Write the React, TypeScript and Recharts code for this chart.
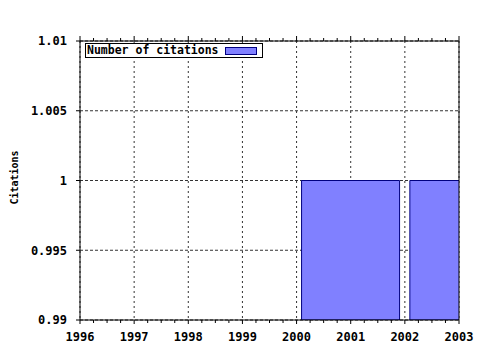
import React from 'react';
import { ComposedChart, Bar, XAxis, YAxis, CartesianGrid, Legend } from 'recharts';

const years = [2001, 2003];
const citations = [1, 1];
const yearTicks = [1996, 1997, 1998, 1999, 2000, 2001, 2002, 2003];
const quarterTicks = [
  1996, 1996.25, 1996.5, 1996.75, 1997, 1997.25, 1997.5, 1997.75,
  1998, 1998.25, 1998.5, 1998.75, 1999, 1999.25, 1999.5, 1999.75,
  2000, 2000.25, 2000.5, 2000.75, 2001, 2001.25, 2001.5, 2001.75,
  2002, 2002.25, 2002.5, 2002.75, 2003,
];
const yTicks = [0.99, 0.995, 1, 1.005, 1.01];
const seriesName = 'Number of citations';

const data = years.map((y, i) => ({ year: y, citations: citations[i] }));

const FONT = '"DejaVu Sans Mono", monospace';

const BottomTick = (props: any) => {
  const { x, y, payload } = props;
  const v = payload.value;
  const major = Number.isInteger(v);
  return (
    <g>
      <line x1={x} x2={x} y1={y} y2={y + (major ? 4 : 3)} stroke="#000" />
      {major && (
        <text x={x} y={y + 21} textAnchor="middle" fontFamily={FONT} fontWeight="bold" fontSize={12} fill="#000">
          {v}
        </text>
      )}
    </g>
  );
};

const TopTick = (props: any) => {
  const { x, y, payload } = props;
  const major = Number.isInteger(payload.value);
  return <line x1={x} x2={x} y1={y} y2={y - (major ? 5 : 3)} stroke="#000" />;
};

const LegendBox = (props: any) => {
  const p = (props.payload && props.payload[0]) || { value: seriesName, color: '#8080ff' };
  return (
    <div
      style={{
        border: '1px solid #000',
        background: '#fff',
        width: 176,
        height: 13,
        boxSizing: 'content-box',
        position: 'relative',
        fontFamily: FONT,
        fontWeight: 'bold',
        fontSize: 11.5,
        lineHeight: '13px',
        color: '#000',
      }}
    >
      <span style={{ position: 'absolute', left: 1, top: 0 }}>{p.value}</span>
      <span
        style={{
          position: 'absolute',
          left: 139,
          top: 3,
          width: 30,
          height: 6,
          background: '#8080ff',
          border: '1px solid #000080',
        }}
      />
    </div>
  );
};

const YLabel = (props: any) => {
  const { viewBox } = props;
  const cx = viewBox.x + 14;
  const cy = viewBox.y + viewBox.height / 2 - 3;
  return (
    <text
      x={cx}
      y={cy}
      transform={`rotate(-90, ${cx}, ${cy})`}
      textAnchor="middle"
      dominantBaseline="central"
      fontFamily={FONT}
      fontWeight="bold"
      fontSize={10}
      fill="#000"
    >
      Citations
    </text>
  );
};

export default function App() {
  return (
    <div style={{ position: 'absolute', left: 0, top: 0, background: '#fff' }}>
      <ComposedChart
        width={480}
        height={350}
        data={data}
        margin={{ top: 40, right: 20, bottom: 0, left: 0 }}
      >
        <CartesianGrid
          horizontal={false}
          vertical={true}
          verticalValues={yearTicks}
          stroke="#333"
          strokeDasharray="2 3"
        />
        <CartesianGrid
          horizontal={true}
          vertical={false}
          horizontalValues={yTicks}
          stroke="#333"
          strokeDasharray="3 2"
        />
        <XAxis
          dataKey="year"
          type="number"
          domain={[1996, 2003]}
          ticks={quarterTicks}
          interval={0}
          allowDataOverflow
          height={30}
          tickSize={0}
          tickMargin={0}
          tickLine={false}
          tick={<BottomTick />}
          axisLine={{ stroke: '#000' }}
        />
        <XAxis
          xAxisId="top"
          orientation="top"
          dataKey="year"
          type="number"
          domain={[1996, 2003]}
          ticks={quarterTicks}
          interval={0}
          allowDataOverflow
          height={1}
          tickSize={0}
          tickMargin={0}
          tickLine={false}
          tick={<TopTick />}
          axisLine={{ stroke: '#000' }}
        />
        <YAxis
          type="number"
          domain={[0.99, 1.01]}
          ticks={yTicks}
          interval={0}
          allowDataOverflow
          width={80}
          tickSize={4}
          tickMargin={9}
          tickLine={{ stroke: '#000' }}
          axisLine={{ stroke: '#000' }}
          tick={{ fill: '#000', fontFamily: FONT, fontWeight: 'bold', fontSize: 12 }}
          label={<YLabel />}
        />
        <YAxis
          yAxisId="right"
          orientation="right"
          type="number"
          domain={[0.99, 1.01]}
          width={1}
          tick={false}
          tickLine={false}
          axisLine={{ stroke: '#000' }}
        />
        <Legend
          verticalAlign="middle"
          align="center"
          content={<LegendBox />}
          wrapperStyle={{ left: 85, top: 43, width: 'auto', height: 'auto' }}
        />
        <Bar
          dataKey="citations"
          name={seriesName}
          fill="#8080ff"
          stroke="#000080"
          strokeWidth={1}
          barSize={98}
          isAnimationActive={false}
        />
      </ComposedChart>
    </div>
  );
}
